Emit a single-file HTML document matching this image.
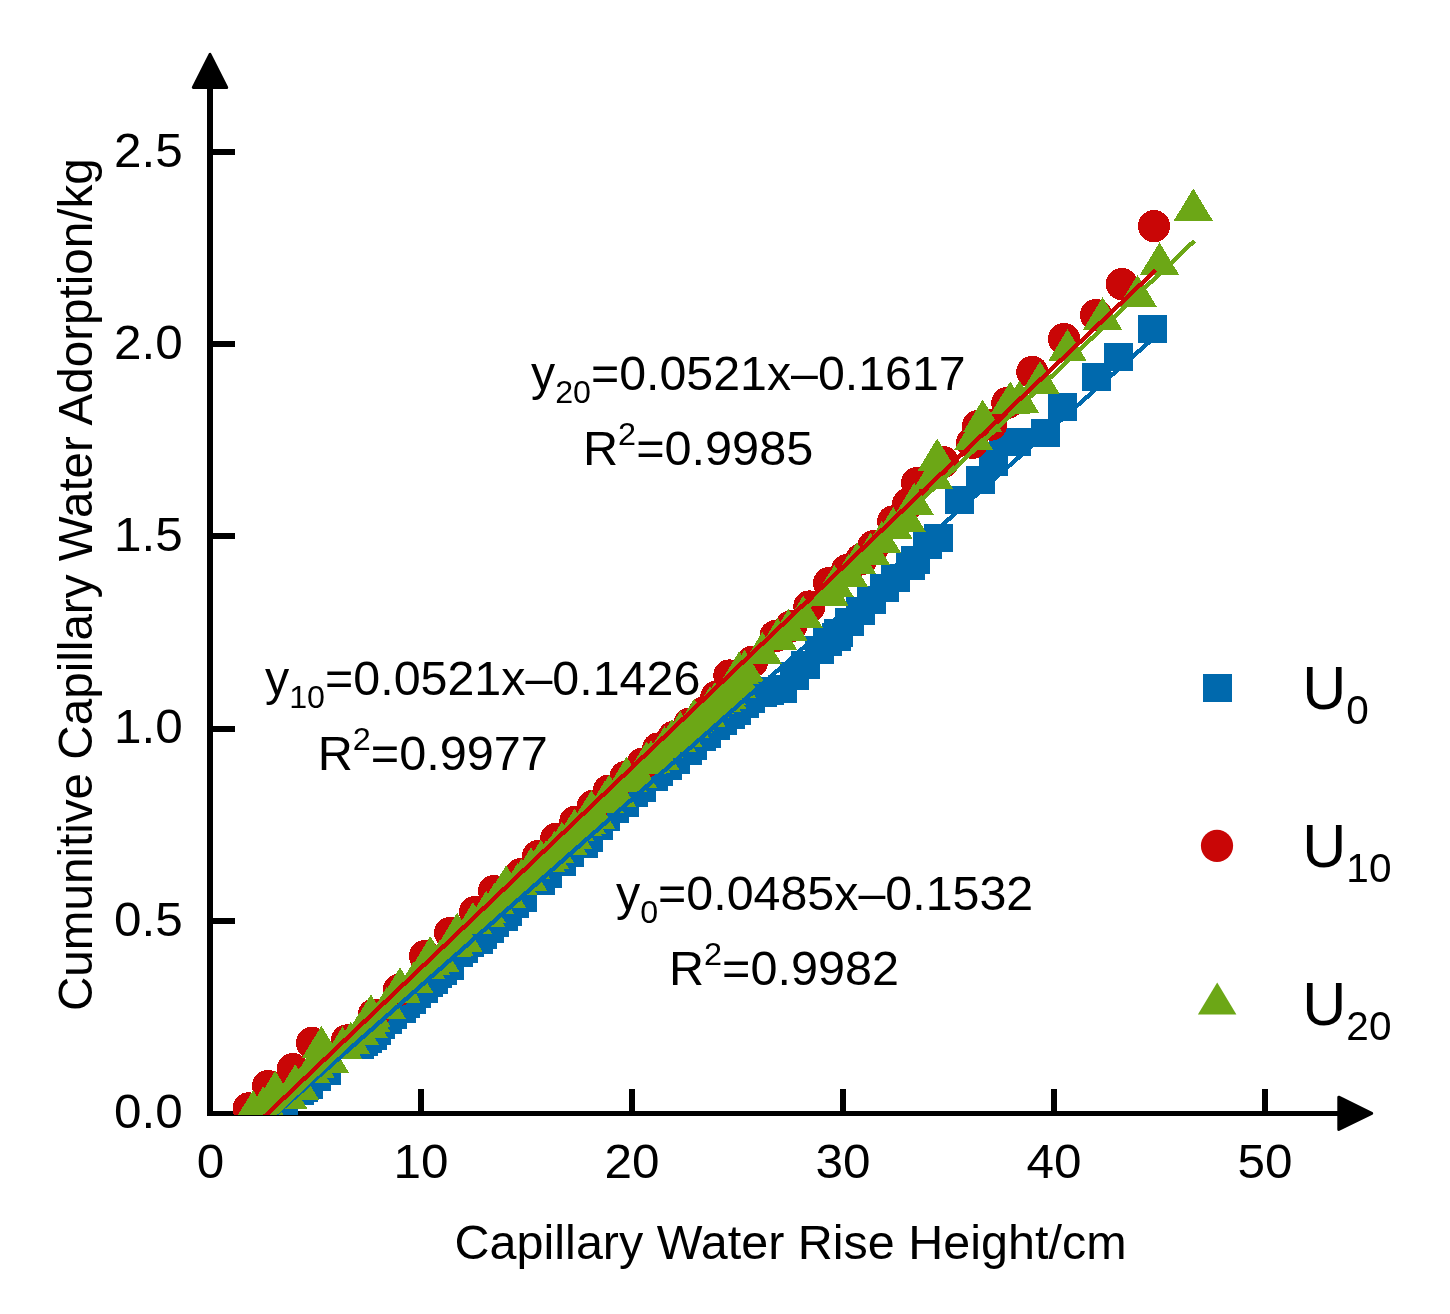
<!DOCTYPE html>
<html lang="en">
<head>
<meta charset="utf-8">
<title>Capillary water adsorption vs rise height</title>
<style>
html,body{margin:0;padding:0;background:#fff;}
body{width:1450px;height:1314px;overflow:hidden;}
svg{display:block;will-change:transform;}
text{font-family:"Liberation Sans",sans-serif;fill:#000;}
.t{font-size:48px;}
.s{font-size:32px;}
.L{font-size:61px;}
.Ls{font-size:40.5px;}
</style>
</head>
<body>
<svg width="1450" height="1314" viewBox="0 0 1450 1314">
<rect x="0" y="0" width="1450" height="1314" fill="#fff"/>
<defs>
<clipPath id="plot"><rect x="205" y="40" width="1200" height="1075"/></clipPath>
</defs>

<!-- axes -->
<g fill="#000" shape-rendering="crispEdges">
<rect x="207" y="88" width="6" height="1028"/>
<rect x="207" y="1111" width="1132" height="5"/>
<!-- y ticks -->
<rect x="210" y="149" width="25" height="6"/>
<rect x="210" y="341" width="25" height="6"/>
<rect x="210" y="533" width="25" height="6"/>
<rect x="210" y="726" width="25" height="6"/>
<rect x="210" y="918" width="25" height="6"/>
<!-- x ticks -->
<rect x="418" y="1089" width="6" height="24"/>
<rect x="629" y="1089" width="6" height="24"/>
<rect x="840" y="1089" width="6" height="24"/>
<rect x="1051" y="1089" width="6" height="24"/>
<rect x="1262" y="1089" width="6" height="24"/>
</g>
<!-- arrows -->
<g fill="#000" stroke="#000" stroke-width="3" stroke-linejoin="round">
<polygon points="210,54.3 193.3,87.5 226.7,87.5"/>
<polygon points="1371.7,1113.4 1338.8,1097.2 1338.8,1129.5"/>
</g>

<!-- y tick labels -->
<g class="t" text-anchor="end">
<text transform="translate(182.8,166.5) scale(1.0300,1)">2.5</text>
<text transform="translate(182.8,358.5) scale(1.0300,1)">2.0</text>
<text transform="translate(182.8,551) scale(1.0300,1)">1.5</text>
<text transform="translate(182.8,743) scale(1.0300,1)">1.0</text>
<text transform="translate(182.8,935.5) scale(1.0300,1)">0.5</text>
<text transform="translate(182.8,1127.7) scale(1.0300,1)">0.0</text>
</g>
<!-- x tick labels -->
<g class="t" text-anchor="middle">
<text transform="translate(210.5,1177.5) scale(1.0300,1)">0</text>
<text transform="translate(421,1177.5) scale(1.0300,1)">10</text>
<text transform="translate(632,1177.5) scale(1.0300,1)">20</text>
<text transform="translate(843,1177.5) scale(1.0300,1)">30</text>
<text transform="translate(1054,1177.5) scale(1.0300,1)">40</text>
<text transform="translate(1265,1177.5) scale(1.0300,1)">50</text>
</g>
<!-- axis titles -->
<text class="t" transform="translate(790.6,1259) scale(1.0105,1)" text-anchor="middle">Capillary Water Rise Height/cm</text>
<text class="t" transform="translate(92.2,584.6) rotate(-90) scale(0.9920,1)" text-anchor="middle">Cumunitive Capillary Water Adorption/kg</text>

<!-- equations -->
<text class="t" transform="translate(531,389.5) scale(1.0065,1)">y<tspan class="s" dy="13">20</tspan><tspan dy="-13">=0.0521x–0.1617</tspan></text>
<text class="t" transform="translate(583,464.5) scale(1.0130,1)">R<tspan class="s" dy="-20">2</tspan><tspan dy="20">=0.9985</tspan></text>
<text class="t" transform="translate(265,694.5) scale(1.0080,1)">y<tspan class="s" dy="13">10</tspan><tspan dy="-13">=0.0521x–0.1426</tspan></text>
<text class="t" transform="translate(317.7,769.5) scale(1.0130,1)">R<tspan class="s" dy="-20">2</tspan><tspan dy="20">=0.9977</tspan></text>
<text class="t" transform="translate(616,909.5) scale(1.0078,1)">y<tspan class="s" dy="13">0</tspan><tspan dy="-13">=0.0485x–0.1532</tspan></text>
<text class="t" transform="translate(669,984.5) scale(1.0120,1)">R<tspan class="s" dy="-20">2</tspan><tspan dy="20">=0.9982</tspan></text>

<!-- legend -->
<rect x="1203" y="674" width="29" height="28" fill="#0069ad" shape-rendering="crispEdges"/>
<circle cx="1217" cy="845.8" r="16.1" fill="#c90606"/>
<polygon points="1217.2,982.6 1197.9,1014.6 1236.4,1014.6" fill="#6ca716"/>
<text class="L" transform="translate(1302.3,708.6) scale(1,1)">U<tspan class="Ls" dy="15">0</tspan></text>
<text class="L" transform="translate(1302.3,866.6) scale(1,1)">U<tspan class="Ls" dy="15">10</tspan></text>
<text class="L" transform="translate(1302.3,1024.5) scale(1,1)">U<tspan class="Ls" dy="15">20</tspan></text>

<!-- DATA -->
<g clip-path="url(#plot)" shape-rendering="crispEdges">
<g fill="#0069ad">
<rect x="269.3" y="1102.5" width="29" height="28"/>
<rect x="284.7" y="1076.8" width="29" height="28"/>
<rect x="289.1" y="1073.9" width="29" height="28"/>
<rect x="294.4" y="1071.0" width="29" height="28"/>
<rect x="302.4" y="1062.8" width="29" height="28"/>
<rect x="312.3" y="1056.8" width="29" height="28"/>
<rect x="344.6" y="1030.7" width="29" height="28"/>
<rect x="349.4" y="1027.8" width="29" height="28"/>
<rect x="353.3" y="1024.6" width="29" height="28"/>
<rect x="357.6" y="1021.7" width="29" height="28"/>
<rect x="361.5" y="1016.5" width="29" height="28"/>
<rect x="365.8" y="1011.2" width="29" height="28"/>
<rect x="373.3" y="1005.8" width="29" height="28"/>
<rect x="378.3" y="1000.6" width="29" height="28"/>
<rect x="386.8" y="994.8" width="29" height="28"/>
<rect x="390.8" y="990.0" width="29" height="28"/>
<rect x="397.3" y="985.5" width="29" height="28"/>
<rect x="401.6" y="980.1" width="29" height="28"/>
<rect x="409.1" y="974.7" width="29" height="28"/>
<rect x="413.6" y="968.7" width="29" height="28"/>
<rect x="419.4" y="965.8" width="29" height="28"/>
<rect x="423.2" y="960.0" width="29" height="28"/>
<rect x="427.6" y="957.1" width="29" height="28"/>
<rect x="435.3" y="951.8" width="29" height="28"/>
<rect x="444.0" y="939.2" width="29" height="28"/>
<rect x="448.8" y="935.4" width="29" height="28"/>
<rect x="455.1" y="928.6" width="29" height="28"/>
<rect x="458.5" y="925.7" width="29" height="28"/>
<rect x="463.5" y="926.1" width="29" height="28"/>
<rect x="467.8" y="920.5" width="29" height="28"/>
<rect x="475.3" y="914.5" width="29" height="28"/>
<rect x="480.3" y="909.1" width="29" height="28"/>
<rect x="488.8" y="902.6" width="29" height="28"/>
<rect x="492.8" y="897.5" width="29" height="28"/>
<rect x="499.9" y="889.8" width="29" height="28"/>
<rect x="508.1" y="883.5" width="29" height="28"/>
<rect x="526.0" y="866.6" width="29" height="28"/>
<rect x="532.9" y="859.9" width="29" height="28"/>
<rect x="547.2" y="847.8" width="29" height="28"/>
<rect x="555.1" y="838.6" width="29" height="28"/>
<rect x="568.9" y="829.9" width="29" height="28"/>
<rect x="574.0" y="823.7" width="29" height="28"/>
<rect x="583.5" y="812.1" width="29" height="28"/>
<rect x="590.9" y="803.0" width="29" height="28"/>
<rect x="599.7" y="794.8" width="29" height="28"/>
<rect x="610.0" y="788.8" width="29" height="28"/>
<rect x="619.0" y="778.9" width="29" height="28"/>
<rect x="627.0" y="773.9" width="29" height="28"/>
<rect x="638.9" y="762.9" width="29" height="28"/>
<rect x="643.8" y="757.9" width="29" height="28"/>
<rect x="652.5" y="752.0" width="29" height="28"/>
<rect x="661.4" y="746.0" width="29" height="28"/>
<rect x="672.5" y="736.9" width="29" height="28"/>
<rect x="678.3" y="732.1" width="29" height="28"/>
<rect x="687.4" y="722.9" width="29" height="28"/>
<rect x="691.8" y="720.0" width="29" height="28"/>
<rect x="701.4" y="711.8" width="29" height="28"/>
<rect x="707.7" y="707.0" width="29" height="28"/>
<rect x="716.4" y="700.7" width="29" height="28"/>
<rect x="722.2" y="696.8" width="29" height="28"/>
<rect x="730.4" y="689.7" width="29" height="28"/>
<rect x="735.5" y="684.7" width="29" height="28"/>
<rect x="747.5" y="678.9" width="29" height="28"/>
<rect x="755.4" y="676.8" width="29" height="28"/>
<rect x="768.4" y="674.8" width="29" height="28"/>
<rect x="780.2" y="661.9" width="29" height="28"/>
<rect x="790.5" y="650.8" width="29" height="28"/>
<rect x="804.6" y="635.9" width="29" height="28"/>
<rect x="813.3" y="628.0" width="29" height="28"/>
<rect x="822.4" y="623.0" width="29" height="28"/>
<rect x="823.6" y="618.9" width="29" height="28"/>
<rect x="834.5" y="608.0" width="29" height="28"/>
<rect x="845.5" y="596.5" width="29" height="28"/>
<rect x="856.6" y="586.2" width="29" height="28"/>
<rect x="870.4" y="574.0" width="29" height="28"/>
<rect x="881.1" y="564.3" width="29" height="28"/>
<rect x="895.9" y="551.9" width="29" height="28"/>
<rect x="901.2" y="545.6" width="29" height="28"/>
<rect x="913.3" y="530.7" width="29" height="28"/>
<rect x="923.7" y="524.4" width="29" height="28"/>
<rect x="945.0" y="486.0" width="29" height="28"/>
<rect x="966.0" y="466.4" width="29" height="28"/>
<rect x="978.9" y="447.8" width="29" height="28"/>
<rect x="988.5" y="428.0" width="29" height="28"/>
<rect x="1002.4" y="428.0" width="29" height="28"/>
<rect x="1030.5" y="419.1" width="29" height="28"/>
<rect x="1048.0" y="393.1" width="29" height="28"/>
<rect x="1081.6" y="363.2" width="29" height="28"/>
<rect x="1103.6" y="343.0" width="29" height="28"/>
<rect x="1138.0" y="315.2" width="29" height="28"/>
</g>
<g fill="#c90606">
<circle cx="248.7" cy="1108.4" r="16.1"/>
<circle cx="268.0" cy="1086.0" r="16.1"/>
<circle cx="292.8" cy="1069.1" r="16.1"/>
<circle cx="312.1" cy="1042.9" r="16.1"/>
<circle cx="347.0" cy="1040.4" r="16.1"/>
<circle cx="373.9" cy="1014.6" r="16.1"/>
<circle cx="399.0" cy="989.8" r="16.1"/>
<circle cx="425.1" cy="956.1" r="16.1"/>
<circle cx="450.2" cy="932.9" r="16.1"/>
<circle cx="475.0" cy="912.0" r="16.1"/>
<circle cx="494.0" cy="891.0" r="16.1"/>
<circle cx="520.9" cy="874.0" r="16.1"/>
<circle cx="538.2" cy="856.1" r="16.1"/>
<circle cx="556.1" cy="838.9" r="16.1"/>
<circle cx="575.4" cy="821.6" r="16.1"/>
<circle cx="593.0" cy="805.8" r="16.1"/>
<circle cx="608.9" cy="790.6" r="16.1"/>
<circle cx="625.7" cy="776.8" r="16.1"/>
<circle cx="642.7" cy="763.7" r="16.1"/>
<circle cx="658.2" cy="748.5" r="16.1"/>
<circle cx="673.7" cy="736.8" r="16.1"/>
<circle cx="689.5" cy="723.7" r="16.1"/>
<circle cx="704.0" cy="712.6" r="16.1"/>
<circle cx="716.4" cy="696.8" r="16.1"/>
<circle cx="729.4" cy="675.5" r="16.1"/>
<circle cx="752.0" cy="661.8" r="16.1"/>
<circle cx="775.6" cy="636.0" r="16.1"/>
<circle cx="791.1" cy="626.3" r="16.1"/>
<circle cx="809.4" cy="606.5" r="16.1"/>
<circle cx="829.2" cy="583.0" r="16.1"/>
<circle cx="847.0" cy="570.2" r="16.1"/>
<circle cx="861.5" cy="559.1" r="16.1"/>
<circle cx="873.5" cy="546.2" r="16.1"/>
<circle cx="893.2" cy="521.4" r="16.1"/>
<circle cx="908.2" cy="504.0" r="16.1"/>
<circle cx="917.1" cy="483.1" r="16.1"/>
<circle cx="942.8" cy="462.0" r="16.1"/>
<circle cx="972.3" cy="442.7" r="16.1"/>
<circle cx="978.1" cy="426.1" r="16.1"/>
<circle cx="991.0" cy="424.6" r="16.1"/>
<circle cx="1007.3" cy="403.0" r="16.1"/>
<circle cx="1032.3" cy="372.0" r="16.1"/>
<circle cx="1064.1" cy="339.0" r="16.1"/>
<circle cx="1096.1" cy="315.0" r="16.1"/>
<circle cx="1121.8" cy="284.1" r="16.1"/>
<circle cx="1154.0" cy="226.2" r="16.1"/>
</g>
<g fill="#6ca716">
<polygon points="253.1,1090.0 233.6,1122.2 272.6,1122.2"/>
<polygon points="258.0,1104.7 238.5,1136.9 277.5,1136.9"/>
<polygon points="263.0,1086.5 243.5,1118.7 282.5,1118.7"/>
<polygon points="271.0,1094.4 251.5,1126.6 290.5,1126.6"/>
<polygon points="275.2,1070.6 255.7,1102.8 294.7,1102.8"/>
<polygon points="287.9,1076.7 268.4,1108.9 307.4,1108.9"/>
<polygon points="295.2,1064.1 275.7,1096.3 314.7,1096.3"/>
<polygon points="299.6,1067.6 280.1,1099.8 319.1,1099.8"/>
<polygon points="310.6,1050.6 291.1,1082.8 330.1,1082.8"/>
<polygon points="315.2,1045.9 295.7,1078.1 334.7,1078.1"/>
<polygon points="321.4,1025.8 301.9,1058.0 340.9,1058.0"/>
<polygon points="329.5,1040.6 310.0,1072.8 349.0,1072.8"/>
<polygon points="342.5,1026.4 323.0,1058.6 362.0,1058.6"/>
<polygon points="350.7,1021.9 331.2,1054.1 370.2,1054.1"/>
<polygon points="359.4,1012.5 339.9,1044.7 378.9,1044.7"/>
<polygon points="368.6,1006.2 349.1,1038.4 388.1,1038.4"/>
<polygon points="371.0,994.4 351.5,1026.6 390.5,1026.6"/>
<polygon points="371.1,999.9 351.6,1032.1 390.6,1032.1"/>
<polygon points="386.7,987.2 367.2,1019.4 406.2,1019.4"/>
<polygon points="400.0,967.2 380.5,999.4 419.5,999.4"/>
<polygon points="401.0,970.6 381.5,1002.8 420.5,1002.8"/>
<polygon points="414.0,960.9 394.5,993.1 433.5,993.1"/>
<polygon points="425.5,946.4 406.0,978.6 445.0,978.6"/>
<polygon points="430.3,936.2 410.8,968.4 449.8,968.4"/>
<polygon points="430.9,942.8 411.4,975.0 450.4,975.0"/>
<polygon points="439.9,939.6 420.4,971.8 459.4,971.8"/>
<polygon points="451.9,924.4 432.4,956.6 471.4,956.6"/>
<polygon points="454.4,924.2 434.9,956.4 473.9,956.4"/>
<polygon points="457.2,912.7 437.7,944.9 476.7,944.9"/>
<polygon points="462.9,919.3 443.4,951.5 482.4,951.5"/>
<polygon points="472.9,902.1 453.4,934.3 492.4,934.3"/>
<polygon points="485.9,895.2 466.4,927.4 505.4,927.4"/>
<polygon points="486.2,890.6 466.7,922.8 505.7,922.8"/>
<polygon points="494.9,882.0 475.4,914.2 514.4,914.2"/>
<polygon points="506.2,865.1 486.7,897.3 525.7,897.3"/>
<polygon points="506.9,876.1 487.4,908.3 526.4,908.3"/>
<polygon points="517.9,862.5 498.4,894.7 537.4,894.7"/>
<polygon points="521.5,858.6 502.0,890.8 541.0,890.8"/>
<polygon points="527.9,858.9 508.4,891.1 547.4,891.1"/>
<polygon points="531.0,847.2 511.5,879.4 550.5,879.4"/>
<polygon points="540.9,839.7 521.4,871.9 560.4,871.9"/>
<polygon points="546.1,840.2 526.6,872.4 565.6,872.4"/>
<polygon points="549.9,837.1 530.4,869.3 569.4,869.3"/>
<polygon points="554.5,830.6 535.0,862.8 574.0,862.8"/>
<polygon points="561.9,821.8 542.4,854.0 581.4,854.0"/>
<polygon points="567.8,822.4 548.3,854.6 587.3,854.6"/>
<polygon points="572.9,817.2 553.4,849.4 592.4,849.4"/>
<polygon points="574.5,808.6 555.0,840.8 594.0,840.8"/>
<polygon points="582.9,803.9 563.4,836.1 602.4,836.1"/>
<polygon points="586.2,801.6 566.7,833.8 605.7,833.8"/>
<polygon points="591.4,790.1 571.9,822.3 610.9,822.3"/>
<polygon points="595.9,797.0 576.4,829.2 615.4,829.2"/>
<polygon points="604.9,780.8 585.4,813.0 624.4,813.0"/>
<polygon points="609.3,774.5 589.8,806.7 628.8,806.7"/>
<polygon points="616.9,774.9 597.4,807.1 636.4,807.1"/>
<polygon points="626.6,756.6 607.1,788.8 646.1,788.8"/>
<polygon points="627.9,759.9 608.4,792.1 647.4,792.1"/>
<polygon points="637.9,756.1 618.4,788.3 657.4,788.3"/>
<polygon points="646.6,741.4 627.1,773.6 666.1,773.6"/>
<polygon points="650.9,740.4 631.4,772.6 670.4,772.6"/>
<polygon points="657.8,736.4 638.3,768.6 677.3,768.6"/>
<polygon points="659.9,737.6 640.4,769.8 679.4,769.8"/>
<polygon points="664.5,726.2 645.0,758.4 684.0,758.4"/>
<polygon points="671.9,719.1 652.4,751.3 691.4,751.3"/>
<polygon points="676.6,719.5 657.1,751.7 696.1,751.7"/>
<polygon points="680.3,711.0 660.8,743.2 699.8,743.2"/>
<polygon points="682.9,714.5 663.4,746.7 702.4,746.7"/>
<polygon points="689.7,705.9 670.2,738.1 709.2,738.1"/>
<polygon points="692.9,700.8 673.4,733.0 712.4,733.0"/>
<polygon points="694.2,698.6 674.7,730.8 713.7,730.8"/>
<polygon points="705.6,693.4 686.1,725.6 725.1,725.6"/>
<polygon points="705.9,694.3 686.4,726.5 725.4,726.5"/>
<polygon points="710.0,686.2 690.5,718.4 729.5,718.4"/>
<polygon points="714.9,682.2 695.4,714.4 734.4,714.4"/>
<polygon points="721.5,679.4 702.0,711.6 741.0,711.6"/>
<polygon points="726.6,672.4 707.1,704.6 746.1,704.6"/>
<polygon points="726.9,676.7 707.4,708.9 746.4,708.9"/>
<polygon points="736.5,665.4 717.0,697.6 756.0,697.6"/>
<polygon points="737.9,658.9 718.4,691.1 757.4,691.1"/>
<polygon points="739.1,651.5 719.6,683.7 758.6,683.7"/>
<polygon points="739.4,651.4 719.9,683.6 758.9,683.6"/>
<polygon points="744.5,649.7 725.0,681.9 764.0,681.9"/>
<polygon points="762.3,631.7 742.8,663.9 781.8,663.9"/>
<polygon points="777.7,617.7 758.2,649.9 797.2,649.9"/>
<polygon points="788.4,609.0 768.9,641.2 807.9,641.2"/>
<polygon points="803.3,595.5 783.8,627.7 822.8,627.7"/>
<polygon points="828.9,573.3 809.4,605.5 848.4,605.5"/>
<polygon points="834.4,564.9 814.9,597.1 853.9,597.1"/>
<polygon points="848.4,554.3 828.9,586.5 867.9,586.5"/>
<polygon points="857.1,542.2 837.6,574.4 876.6,574.4"/>
<polygon points="870.6,532.6 851.1,564.8 890.1,564.8"/>
<polygon points="881.7,521.0 862.2,553.2 901.2,553.2"/>
<polygon points="893.3,506.9 873.8,539.1 912.8,539.1"/>
<polygon points="906.4,499.7 886.9,531.9 925.9,531.9"/>
<polygon points="914.3,482.5 894.8,514.7 933.8,514.7"/>
<polygon points="933.3,456.3 913.8,488.5 952.8,488.5"/>
<polygon points="937.2,438.4 917.7,470.6 956.7,470.6"/>
<polygon points="973.6,417.8 954.1,450.0 993.1,450.0"/>
<polygon points="982.7,399.5 963.2,431.7 1002.2,431.7"/>
<polygon points="1010.3,381.3 990.8,413.5 1029.8,413.5"/>
<polygon points="1019.5,380.5 1000.0,412.7 1039.0,412.7"/>
<polygon points="1040.0,361.3 1020.5,393.5 1059.5,393.5"/>
<polygon points="1067.5,329.2 1048.0,361.4 1087.0,361.4"/>
<polygon points="1102.6,297.3 1083.1,329.5 1122.1,329.5"/>
<polygon points="1137.5,274.9 1118.0,307.1 1157.0,307.1"/>
<polygon points="1159.5,242.4 1140.0,274.6 1179.0,274.6"/>
<polygon points="1193.3,188.4 1173.8,220.6 1212.8,220.6"/>
</g>
<line x1="272.0" y1="1117.5" x2="1152.5" y2="339.1" stroke="#0069ad" stroke-width="4.3"/>
<line x1="248.7" y1="1131.5" x2="1155.5" y2="270.3" stroke="#c90606" stroke-width="4.3"/>
<line x1="253.1" y1="1134.7" x2="1194.5" y2="240.7" stroke="#6ca716" stroke-width="4.3"/>
</g>
</svg>
</body>
</html>
